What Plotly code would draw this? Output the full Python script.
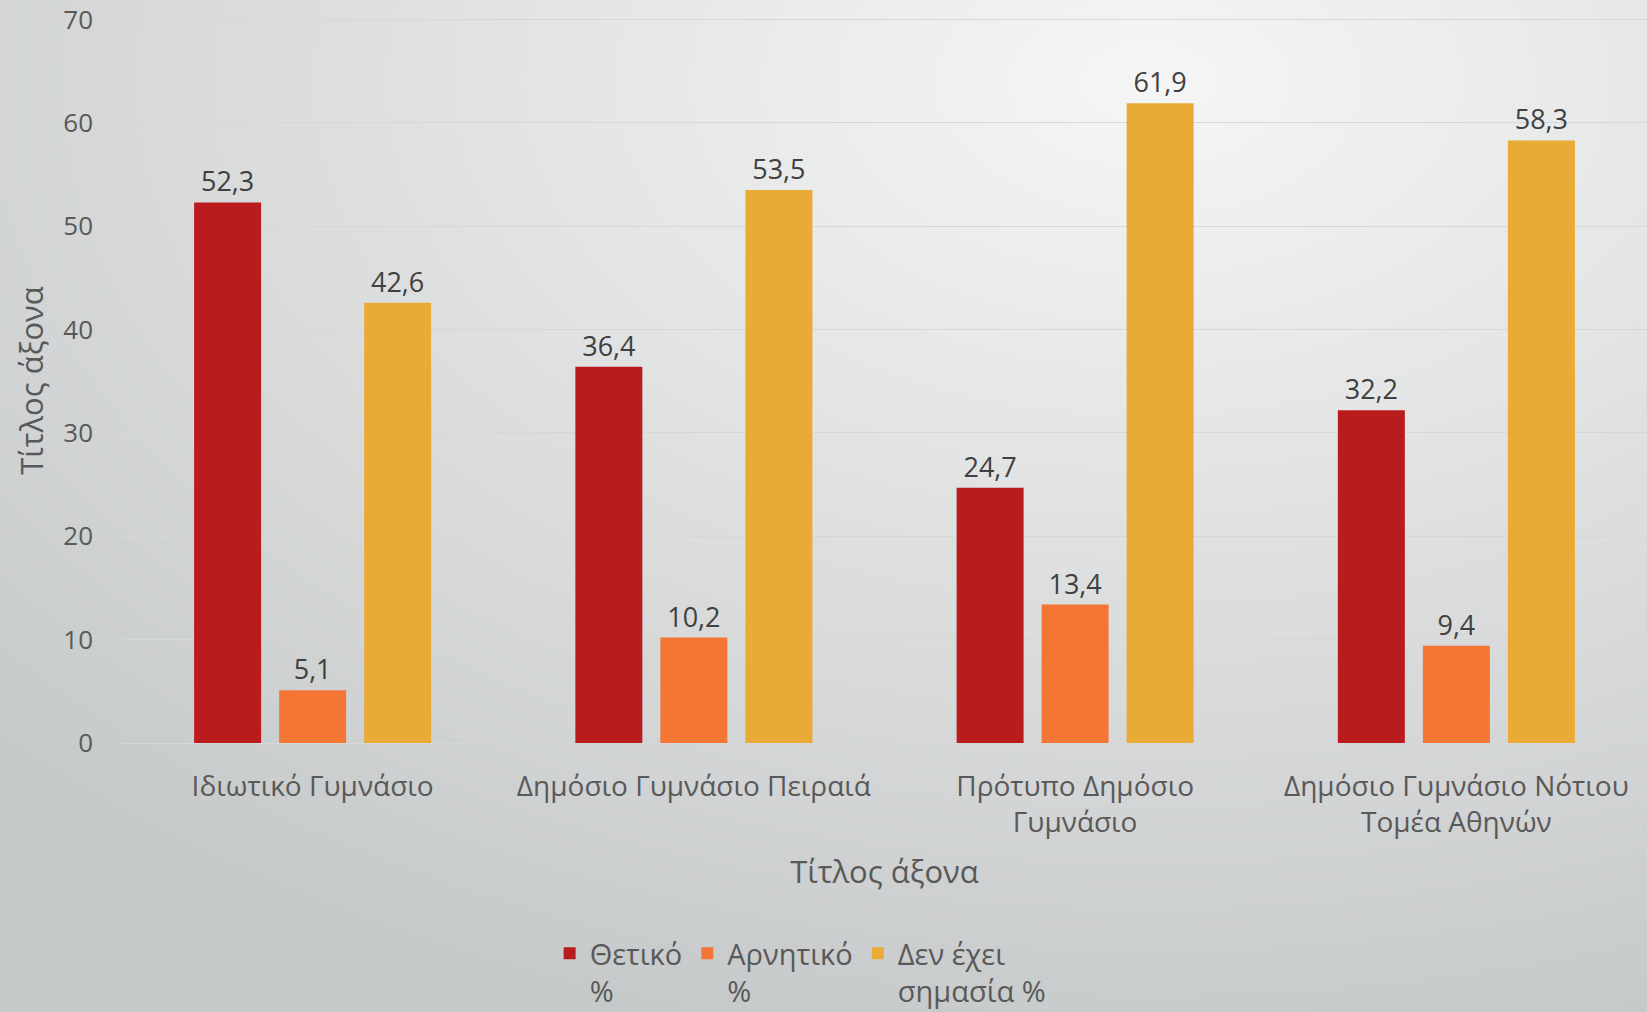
import zlib, struct, base64
import numpy as np
import plotly.graph_objects as go

categories = ["Ιδιωτικό Γυμνάσιο", "Δημόσιο Γυμνάσιο Πειραιά",
              "Πρότυπο Δημόσιο<br>Γυμνάσιο", "Δημόσιο Γυμνάσιο Νότιου<br>Τομέα Αθηνών"]
series_names = ["Θετικό<br>%", "Αρνητικό<br>%", "Δεν έχει<br>σημασία %"]
thetiko = [52.3, 36.4, 24.7, 32.2]
arnitiko = [5.1, 10.2, 13.4, 9.4]
den_exei = [42.6, 53.5, 61.9, 58.3]
y_ticks = [0, 10, 20, 30, 40, 50, 60, 70]

colors = ["#BA1B1D", "#F47534", "#E9AB35"]
W, H = 1647, 1012
L, R, T, B = 122, 0, 18, 269

# radial gradient background as PNG
def make_png(w, h, arr):
    raw = b"".join(b"\x00" + arr[i].tobytes() for i in range(h))
    def chunk(t, d):
        return struct.pack(">I", len(d)) + t + d + struct.pack(">I", zlib.crc32(t + d) & 0xffffffff)
    return (b"\x89PNG\r\n\x1a\n" + chunk(b"IHDR", struct.pack(">IIBBBBB", w, h, 8, 2, 0, 0, 0))
            + chunk(b"IDAT", zlib.compress(raw, 9)) + chunk(b"IEND", b""))

sw, sh = 412, 253
xs = np.linspace(0, W, sw)[None, :]
ys = np.linspace(0, H, sh)[:, None]
d = np.sqrt(((xs - 1150) / 1.6) ** 2 + (ys - 80) ** 2)
t = np.clip(d / 1000.0, 0, 1)
c0 = np.array([246, 246, 246], float)
c1 = np.array([198, 201, 202], float)
img = (c0[None, None, :] * (1 - t[..., None]) + c1[None, None, :] * t[..., None]).astype(np.uint8)
uri = "data:image/png;base64," + base64.b64encode(make_png(sw, sh, img)).decode()

pw = W - L - R
ph = H - T - B

fig = go.Figure()
for name, vals, col in zip(series_names, [thetiko, arnitiko, den_exei], colors):
    fig.add_trace(go.Bar(
        x=categories, y=vals, name=name, marker=dict(color=col, line=dict(width=0)),
        texttemplate="%{y:.1f}", textposition="outside", cliponaxis=False,
        textfont=dict(size=27, color="#404040", family="Open Sans"),
    ))

fig.update_layout(
    width=W, height=H,
    margin=dict(l=L, r=R, t=T, b=B, pad=0, autoexpand=False),
    paper_bgcolor="#DADDDE", plot_bgcolor="rgba(0,0,0,0)",
    separators=",.",
    font=dict(family="Open Sans", size=27, color="#595959"),
    barmode="group", bargap=0.331, bargroupgap=0.212,
    showlegend=True,
    legend=dict(orientation="h", x=0.445, xanchor="center", y=-0.255, yanchor="top",
                font=dict(size=29, color="#595959"), valign="top",
                bgcolor="rgba(0,0,0,0)", traceorder="normal"),
    images=[dict(source=uri, xref="paper", yref="paper", x=-L / pw, y=1 + T / ph,
                 sizex=W / pw, sizey=H / ph, sizing="stretch", layer="below",
                 xanchor="left", yanchor="top")],
)
fig.update_yaxes(range=[0, 70.15], tickvals=y_ticks, showgrid=True, gridcolor="#D6D7D8",
                 gridwidth=1, zeroline=False, showline=False, ticks="",
                 ticklabelstandoff=28, ticklabeloverflow="allow", automargin=False,
                 tickfont=dict(size=26, color="#595959"),
                 title=dict(text="Τίτλος άξονα", font=dict(size=31, color="#595959"), standoff=10))
fig.update_xaxes(showline=True, linecolor="#D6D7D8", linewidth=1, ticks="",
                 ticklabelstandoff=18, automargin=False,
                 tickfont=dict(size=28, color="#595959"),
                 title=dict(text="Τίτλος άξονα", font=dict(size=31, color="#595959"), standoff=22))

fig.write_html("out.html", config={"displayModeBar": False},
               post_script="document.body.style.margin='0px';")
